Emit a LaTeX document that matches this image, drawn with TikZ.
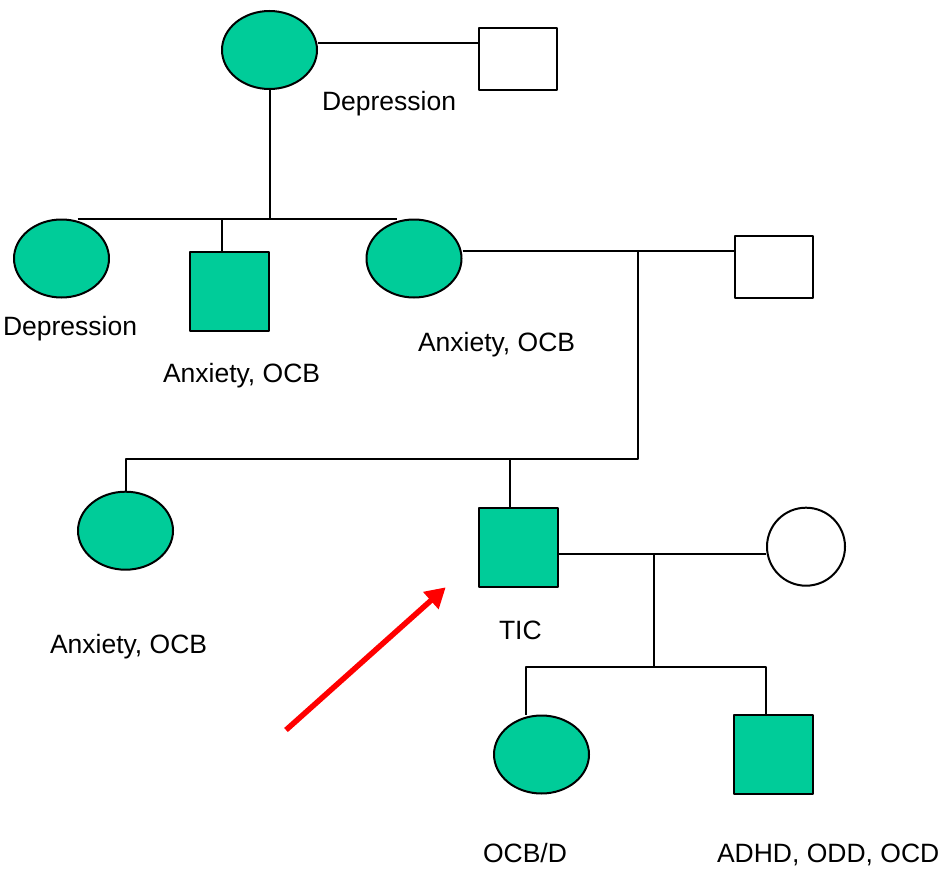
\documentclass[tikz,border=0pt]{standalone}
\usepackage{fontspec}
\setmainfont{Liberation Sans}
\usetikzlibrary{shapes.geometric,arrows.meta}
\definecolor{affected}{RGB}{0,204,153}
\begin{document}
\begin{tikzpicture}[x=1pt, y=-1pt, line width=2pt, line join=round,
	font=\fontsize{26.5}{30}\selectfont,
	fem/.style={ellipse, draw, fill=affected, minimum width=95pt, minimum height=78pt, inner sep=0pt},
	femfree/.style={circle, draw, fill=white, minimum size=78pt, inner sep=0pt},
	male/.style={rectangle, draw, fill=affected, minimum width=79pt, minimum height=79pt, inner sep=0pt},
	malefree/.style={rectangle, draw, fill=white, minimum width=78pt, minimum height=62pt, inner sep=0pt},
	lab/.style={anchor=base west, inner sep=0pt}]
	\useasboundingbox (0,0) rectangle (942,872);
	% persons
	\node[fem] (gmother) at (269.5,50) {};
	\node[malefree] (gfather) at (518,59) {};
	\node[fem] (aunt) at (61.5,258.5) {};
	\node[male] (uncle) at (229.5,291) {};
	\node[fem] (mother) at (414,258.5) {};
	\node[malefree] (father) at (774,267) {};
	\node[fem] (cousin) at (125.5,530.7) {};
	\node[male] (proband) at (518,547) {};
	\node[femfree] (wife) at (806,546.7) {};
	\node[fem] (daughter) at (541.5,754.5) {};
	\node[male] (son) at (773.5,754.5) {};
	\path
	(269.5,218.7)coordinate(s1)
	(637.7,251)coordinate(m2)
	(637.7,459)coordinate(s2)
	(654,554.3)coordinate(m3)
	(654,666.7)coordinate(s3)
	(286,730)coordinate(tail)
	(445.7,587.3)coordinate(tip)
	;
	% lines
	\draw ([yshift=7pt]gmother.east) -- ([yshift=7pt]gmother.east -| gfather.west);
	\draw (gmother.south) -- (gmother.south |- s1);
	\draw ([xshift=16pt]aunt.north) -- ([xshift=-17pt]mother.north);
	\draw ([xshift=-8pt]uncle.north) -- ([xshift=-8pt]uncle.north |- s1);
	\draw ([yshift=7.5pt]mother.east) -- ([yshift=7.5pt]mother.east -| father.west);
	\draw (m2) -- (s2) -| (cousin.north);
	\draw ([xshift=-8pt]proband.north) -- ([xshift=-8pt]proband.north |- s2);
	\draw ([yshift=-7.3pt]proband.east) -- ([yshift=-7.3pt]proband.east -| wife.west);
	\draw (m3) -- (s3);
	\draw ([xshift=-16pt]daughter.north) |- (s3) -| ([xshift=-8pt]son.north);
	% labels
	\foreach \t/\px/\py [count=\i] in {Depression/321/111, Depression/2/335, {Anxiety, OCB}/162/382.7,
		{Anxiety, OCB}/417/351, {Anxiety, OCB}/49/653, TIC/498/639, {OCB/D}/482/862.7, {ADHD, ODD, OCD}/716/862.7}{
		\node[lab] (lab\i) at (\px,\py) {\t};}
	\draw[red, line width=5.5pt, -{Triangle[length=20pt,width=22pt]}] (tail) -- (tip);
\end{tikzpicture}
\end{document}
